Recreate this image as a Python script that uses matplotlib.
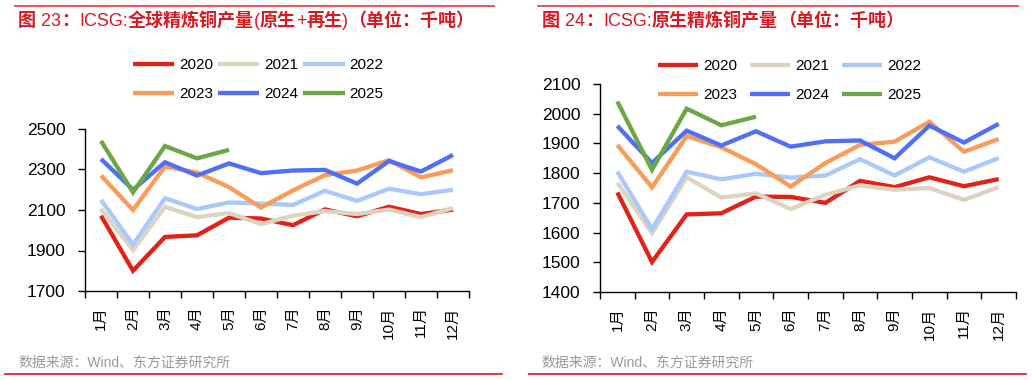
import matplotlib
matplotlib.use("Agg")
import matplotlib.pyplot as plt
from matplotlib.lines import Line2D
import numpy as np

plt.rcParams['font.family'] = ['Liberation Sans', 'Noto Sans CJK SC', 'DejaVu Sans']

months = ['1月', '2月', '3月', '4月', '5月', '6月', '7月', '8月', '9月', '10月', '11月', '12月']
years = ['2020', '2021', '2022', '2023', '2024', '2025']
colors = ['#e32119', '#ddd4c0', '#a9c9fb', '#fa9b58', '#4e6ff6', '#6ca745']

# Figure 23: global refined copper output (primary + secondary), kt
total_2020 = [2072, 1800, 1967, 1975, 2062, 2058, 2025, 2103, 2069, 2116, 2080, 2102]
total_2021 = [2105, 1902, 2115, 2065, 2085, 2030, 2072, 2095, 2080, 2102, 2065, 2110]
total_2022 = [2150, 1930, 2158, 2105, 2137, 2132, 2125, 2195, 2145, 2205, 2178, 2200]
total_2023 = [2270, 2100, 2315, 2285, 2213, 2112, 2197, 2272, 2295, 2346, 2261, 2297]
total_2024 = [2352, 2200, 2336, 2270, 2330, 2282, 2295, 2298, 2230, 2342, 2290, 2372]
total_2025 = [2441, 2187, 2416, 2355, 2397]

# Figure 24: primary refined copper output, kt
prim_2020 = [1735, 1501, 1661, 1665, 1721, 1720, 1700, 1774, 1753, 1786, 1756, 1780]
prim_2021 = [1768, 1598, 1786, 1718, 1732, 1679, 1727, 1759, 1744, 1750, 1710, 1753]
prim_2022 = [1805, 1612, 1805, 1779, 1798, 1785, 1792, 1847, 1792, 1853, 1805, 1851]
prim_2023 = [1895, 1752, 1925, 1887, 1830, 1755, 1834, 1895, 1906, 1973, 1872, 1915]
prim_2024 = [1959, 1834, 1943, 1893, 1941, 1889, 1907, 1910, 1850, 1960, 1903, 1966]
prim_2025 = [2041, 1811, 2017, 1961, 1990]

# title segments: (text, is_cjk)
title_left = [('图', True), (' 23', False), ('：', True), ('ICSG:', False), ('全球精炼铜产量', True),
              ('(', False), ('原生', True), ('+', False), ('再生', True), (')', False),
              ('（单位：千吨）', True)]
title_right = [('图', True), (' 24', False), ('：', True), ('ICSG:', False), ('原生精炼铜产量', True),
               ('（单位：千吨）', True)]
source = '数据来源：Wind、东方证券研究所'

W, H = 1032, 380
fig = plt.figure(figsize=(W / 100, H / 100), dpi=100)

def fx(px):
    return px / W

def fy(py):
    return 1 - py / H

def panel(rect, series, ylim, yticks, legend_anchor, leg_kw):
    ax = fig.add_axes(rect)
    handles = []
    for vals, c, lab in zip(series, colors, years):
        x = np.arange(len(vals))
        ln, = ax.plot(x, vals, color=c, lw=3.1, solid_capstyle='butt', solid_joinstyle='miter', label=lab)
        handles.append(ln)
    ax.set_xlim(-0.5, 11.5)
    ax.set_ylim(*ylim)
    ax.set_yticks(yticks)
    ax.set_xticks(np.arange(12))
    ax.set_xticklabels(months, rotation=90, fontsize=11)
    ax.set_xticks(np.arange(-0.5, 12, 1), minor=True)
    ax.tick_params(axis='x', which='major', length=0, pad=11)
    ax.tick_params(axis='x', which='minor', length=5, width=1, direction='out', color='black')
    ax.tick_params(axis='y', which='major', length=5, width=1, direction='out', labelsize=12.5, pad=9)
    for s in ['top', 'right']:
        ax.spines[s].set_visible(False)
    for s in ['left', 'bottom']:
        ax.spines[s].set_linewidth(1)
        ax.spines[s].set_color('black')
    ax.set_yticklabels([str(t) for t in yticks])
    # legend fills column-major; reorder so rows read 2020-2022 / 2023-2025
    order = [0, 3, 1, 4, 2, 5]
    fig.legend(handles=[handles[i] for i in order], loc='center left', bbox_to_anchor=legend_anchor,
               ncol=3, frameon=False, fontsize=11, borderaxespad=0, borderpad=0,
               **leg_kw)
    return ax

ax1 = panel([fx(85), fy(291), fx(469 - 85), (291 - 129) / H],
            [total_2020, total_2021, total_2022, total_2023, total_2024, total_2025],
            (1700, 2500), [1700, 1900, 2100, 2300, 2500],
            (fx(133), fy(79.5)),
            dict(handlelength=2.7, handletextpad=0.3, columnspacing=0.35, labelspacing=1.0))

ax2 = panel([fx(600), fy(292), fx(1016 - 600), (292 - 84) / H],
            [prim_2020, prim_2021, prim_2022, prim_2023, prim_2024, prim_2025],
            (1400, 2100), [1400, 1500, 1600, 1700, 1800, 1900, 2000, 2100],
            (fx(658), fy(80.5)),
            dict(handlelength=2.6, handletextpad=0.35, columnspacing=0.85, labelspacing=1.0))

# decorations: red rules, titles, sources
for x0, x1 in [(15, 494), (538, 1018)]:
    fig.add_artist(Line2D([fx(x0), fx(x1)], [fy(5.5), fy(5.5)], color='#e8474a', lw=1.3))
for x0, x1 in [(5, 502), (529, 1026)]:
    fig.add_artist(Line2D([fx(x0), fx(x1)], [fy(373.5), fy(373.5)], color='#e3242b', lw=1.3))

renderer = fig.canvas.get_renderer()

def seg_title(x0_px, y_px, segments, size):
    x = x0_px
    for txt, cjk in segments:
        if cjk:
            fam, wt = ['Noto Sans CJK SC', 'DejaVu Sans'], 'bold'
        else:
            fam, wt = ['Liberation Sans', 'DejaVu Sans'], 'normal'
        t = fig.text(fx(x), fy(y_px), txt, color='#d71920', fontsize=size, family=fam,
                     fontweight=wt, va='baseline', ha='left')
        bb = t.get_window_extent(renderer=renderer)
        x += bb.width

seg_title(18, 25.5, title_left, 13)
seg_title(542, 25.5, title_right, 13)

sfam = ['Liberation Sans', 'Noto Sans CJK SC', 'DejaVu Sans']
fig.text(fx(18), fy(363), source, color='#999999', fontsize=10, family=sfam, va='center', ha='left')
fig.text(fx(541), fy(363), source, color='#999999', fontsize=10, family=sfam, va='center', ha='left')

fig.savefig('out.png', dpi=100)
